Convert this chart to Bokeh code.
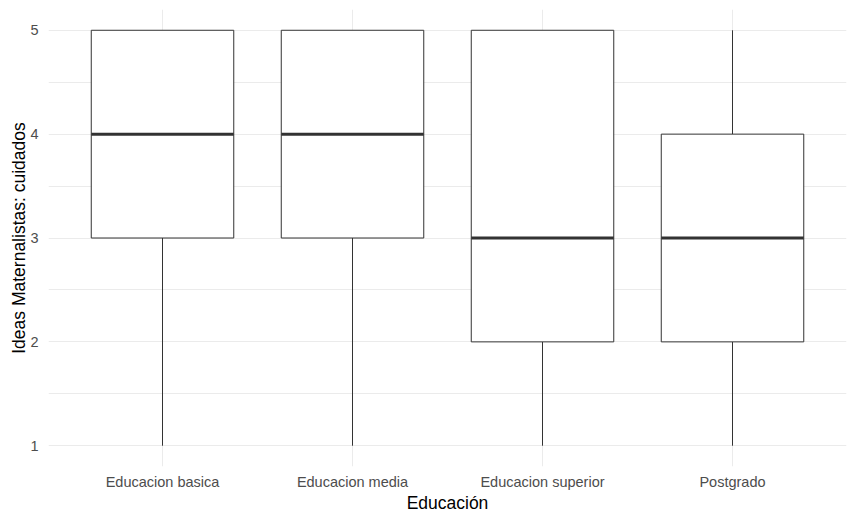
from bokeh.plotting import figure
from bokeh.models import FixedTicker, ColumnDataSource
from bokeh.embed import file_html
from bokeh.resources import INLINE

categories = ["Educacion basica", "Educacion media", "Educacion superior", "Postgrado"]
lower = [1, 1, 1, 1]
q1 = [3, 3, 2, 2]
median = [4, 4, 3, 3]
q3 = [5, 5, 5, 4]
upper = [5, 5, 5, 5]

xs = [i + 1 for i in range(len(categories))]
src = ColumnDataSource(dict(x=xs, lower=lower, q1=q1, median=median, q3=q3, upper=upper,
                            xl=[x - 0.375 for x in xs], xr=[x + 0.375 for x in xs]))

p = figure(frame_width=798, frame_height=457, output_backend="svg", toolbar_location=None,
           x_range=(0.4, 4.6), y_range=(0.8, 5.2),
           min_border_left=48, min_border_right=10, min_border_top=9, min_border_bottom=55)
p.outline_line_color = None
p.background_fill_color = "white"

FONT = "Liberation Sans"
for ax in (p.xaxis[0], p.yaxis[0]):
    ax.axis_line_color = None
    ax.major_tick_line_color = None
    ax.minor_tick_line_color = None
    ax.major_tick_out = 0
    ax.major_tick_in = 0
    ax.minor_tick_out = 0
    ax.minor_tick_in = 0
    ax.major_label_text_font = FONT
    ax.major_label_text_font_size = "14.5px"
    ax.major_label_text_color = "#4D4D4D"
    ax.axis_label_text_font = FONT
    ax.axis_label_text_font_size = "17.5px"
    ax.axis_label_text_font_style = "normal"
    ax.axis_label_text_color = "black"

p.xaxis.ticker = FixedTicker(ticks=xs)
p.xaxis.major_label_overrides = {x: c for x, c in zip(xs, categories)}
p.xaxis.axis_label = "Educación"
p.xaxis.major_label_standoff = 7
p.xaxis.axis_label_standoff = 0

p.yaxis.ticker = FixedTicker(ticks=[1, 2, 3, 4, 5], minor_ticks=[1.5, 2.5, 3.5, 4.5])
p.yaxis.axis_label = "Ideas Maternalistas: cuidados"
p.yaxis.major_label_standoff = 10
p.yaxis.axis_label_standoff = -2

p.xgrid.grid_line_color = "#EBEBEB"
p.xgrid.grid_line_width = 1
p.ygrid.grid_line_color = "#EBEBEB"
p.ygrid.grid_line_width = 1
p.ygrid.minor_grid_line_color = "#EBEBEB"
p.ygrid.minor_grid_line_width = 1

# whiskers
p.segment(x0="x", y0="q3", x1="x", y1="upper", source=src, line_color="#333333", line_width=1)
p.segment(x0="x", y0="q1", x1="x", y1="lower", source=src, line_color="#333333", line_width=1)
# boxes
p.vbar(x="x", width=0.75, bottom="q1", top="q3", source=src,
       fill_color="white", line_color="#333333", line_width=1)
# medians
p.segment(x0="xl", y0="median", x1="xr", y1="median", source=src,
          line_color="#333333", line_width=3)

open("out.html", "w").write(file_html(p, INLINE))
